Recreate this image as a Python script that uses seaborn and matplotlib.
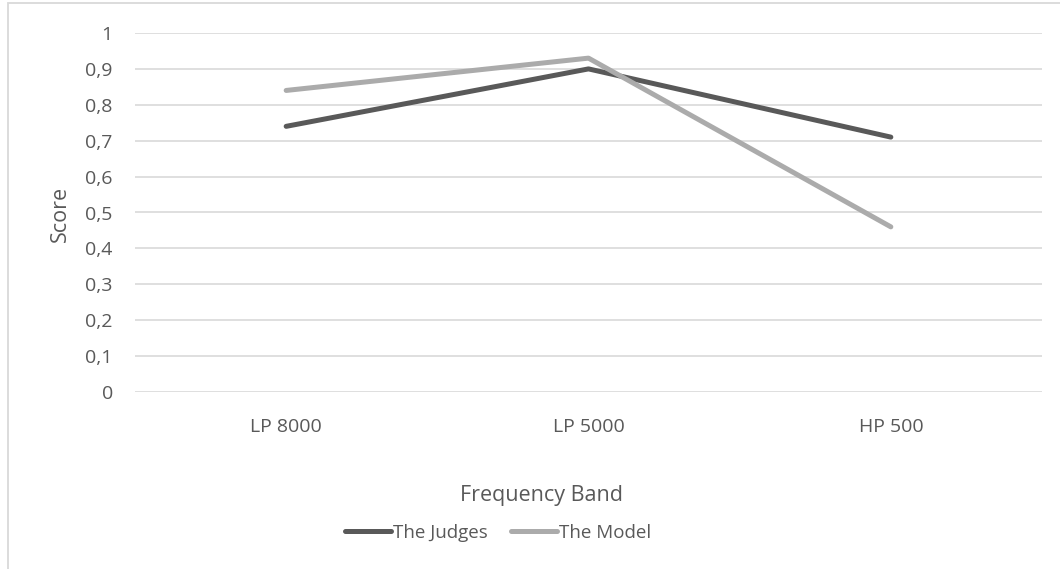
import matplotlib
matplotlib.use("Agg")
import matplotlib.pyplot as plt
from matplotlib.patches import Rectangle
from matplotlib.ticker import FuncFormatter, MultipleLocator
import seaborn as sns
import pandas as pd

# Scores per frequency band
bands = ["LP 8000", "LP 5000", "HP 500"]
judges = [0.74, 0.90, 0.71]
model = [0.84, 0.93, 0.46]
series_names = ["The Judges", "The Model"]
colors = ["#595959", "#ABABAB"]

df = pd.DataFrame({
    "band": bands * 2,
    "score": judges + model,
    "series": [series_names[0]] * len(bands) + [series_names[1]] * len(bands),
})

sns.set_theme(style="white")
plt.rcParams["font.family"] = ["Open Sans", "DejaVu Sans"]
text_color = "#595959"

fig = plt.figure(figsize=(10.6, 5.69), dpi=100)
ax = fig.add_axes([135 / 1060, 1 - 392 / 569, (1042 - 135) / 1060, (392 - 33) / 569])

sns.lineplot(data=df, x="band", y="score", hue="series", hue_order=series_names,
             palette=colors, sort=False, linewidth=3.6, ax=ax,
             solid_capstyle="round", legend=True)

ax.set_xlim(-0.5, len(bands) - 0.5)
ax.set_ylim(0, 1)
ax.yaxis.set_major_locator(MultipleLocator(0.1))
ax.yaxis.set_major_formatter(FuncFormatter(
    lambda v, _: "0" if abs(v) < 1e-9 else ("1" if abs(v - 1) < 1e-9 else f"{v:.1f}".replace(".", ","))))
ax.grid(axis="y", color="#D9D9D9", linewidth=1.2)
ax.set_axisbelow(True)
for s in ax.spines.values():
    s.set_visible(False)

ax.tick_params(axis="y", length=0, pad=16, labelsize=14, labelcolor=text_color)
ax.tick_params(axis="x", length=0, pad=19, labelsize=14, labelcolor=text_color)

ax.set_xlabel("")
ax.set_ylabel("")
fig.text(60 / 1060, 1 - 214 / 569, "Score", rotation=90, ha="center", va="center",
         fontsize=15.5, color=text_color)
fig.text(541 / 1060, 1 - 496 / 569, "Frequency Band", ha="center", va="center",
         fontsize=15.5, color=text_color)

ax.legend_.remove()
handles, labels = ax.get_legend_handles_labels()
for h in handles:
    h.set_solid_capstyle("round")
fig.legend(handles, labels, loc="center", bbox_to_anchor=(498 / 1060, 1 - 533 / 569),
           ncol=2, frameon=False, fontsize=13.5, handlelength=2.5, handletextpad=0.1,
           columnspacing=1.2, labelcolor=text_color)

# Chart area outline
fig.patches.append(Rectangle((8 / 1060, -0.1), 1.2, 1 - 3 / 569 + 0.1,
                             transform=fig.transFigure, fill=False,
                             edgecolor="#D9D9D9", linewidth=1.3))

fig.savefig("out.png", dpi=100)
